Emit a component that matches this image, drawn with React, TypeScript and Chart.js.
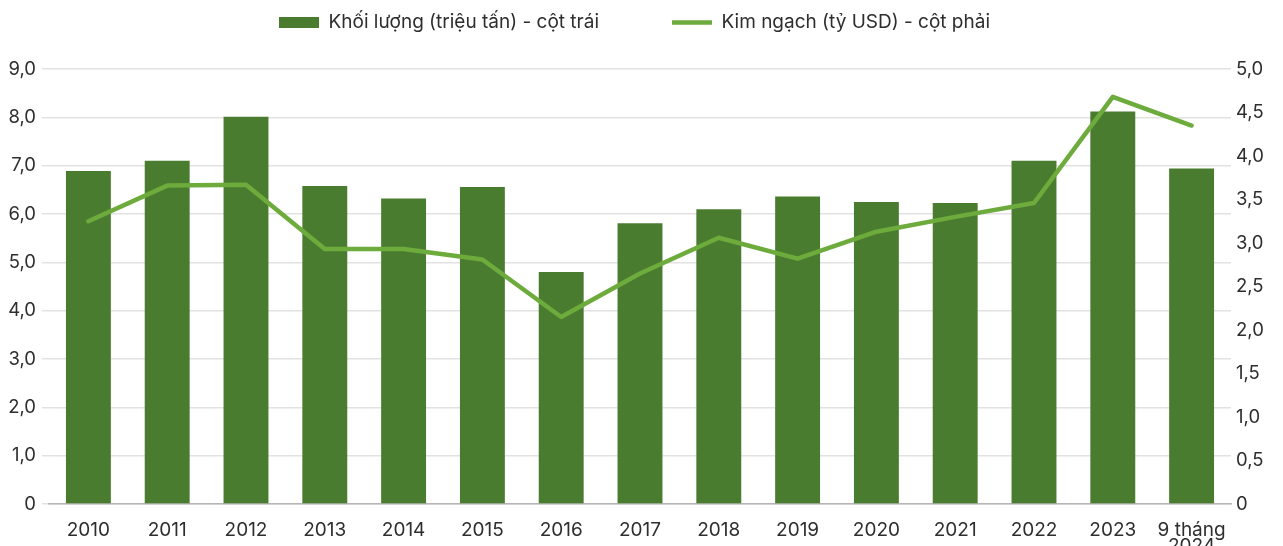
import React, { useEffect, useRef } from "react";
import { Chart, registerables } from "chart.js";

Chart.register(...registerables);

const categories: (string | string[])[] = [
  "2010", "2011", "2012", "2013", "2014", "2015", "2016", "2017",
  "2018", "2019", "2020", "2021", "2022", "2023", ["9 tháng", "2024"],
];
const volumeLabel = "Khối lượng (triệu tấn) - cột trái";
const valueLabel = "Kim ngạch (tỷ USD) - cột phải";
const volumes = [6.89, 7.1, 8.01, 6.58, 6.32, 6.56, 4.8, 5.81, 6.1, 6.36, 6.25, 6.23, 7.1, 8.12, 6.94];
const values = [3.25, 3.66, 3.67, 2.93, 2.93, 2.81, 2.15, 2.65, 3.06, 2.82, 3.13, 3.3, 3.46, 4.68, 4.35];
const leftTicks = [0, 1, 2, 3, 4, 5, 6, 7, 8, 9];
const rightTicks = [0, 0.5, 1, 1.5, 2, 2.5, 3, 3.5, 4, 4.5, 5];

const BAR_COLOR = "#4a7c2f";
const LINE_COLOR = "#6cab3c";
const TEXT_COLOR = "#2e2e2e";
const GRID_COLOR = "#e2e2e2";
const FONT = "Inter";

const fmt = (v: number) => (v === 0 ? "0" : v.toFixed(1).replace(".", ","));

const LEGEND_PAD = 73;

const legendPlace = {
  id: "legendPlace",
  beforeInit(chart: any) {
    const lg = chart.legend;
    if (!lg) return;
    const orig = lg.fit;
    lg.fit = function () {
      orig.call(this);
      this.height = 69;
    };
  },
  afterLayout(chart: any) {
    const lg = chart.legend;
    if (!lg) return;
    lg.left = 279 - LEGEND_PAD;
    lg.top = 13 - LEGEND_PAD;
  },
};

export default function App() {
  const ref = useRef<HTMLCanvasElement | null>(null);
  useEffect(() => {
    if (!ref.current) return;
    const chart = new Chart(ref.current, {
      type: "bar",
      data: {
        labels: categories,
        datasets: [
          {
            type: "bar",
            label: volumeLabel,
            data: volumes,
            backgroundColor: BAR_COLOR,
            borderWidth: 0,
            yAxisID: "y",
            order: 1,
            categoryPercentage: 1,
            barPercentage: 0.57,
            pointStyle: "rect",
          } as any,
          {
            type: "line",
            label: valueLabel,
            data: values,
            borderColor: LINE_COLOR,
            backgroundColor: LINE_COLOR,
            borderWidth: 4.5,
            pointRadius: 0,
            pointHoverRadius: 0,
            tension: 0,
            yAxisID: "y1",
            order: 0,
            pointStyle: "line",
            borderCapStyle: "round",
            borderJoinStyle: "round",
          } as any,
        ],
      },
      options: {
        responsive: false,
        animation: false,
        layout: { padding: 0 },
        plugins: {
          tooltip: { enabled: false },
          legend: {
            display: true,
            position: "top",
            align: "start",
            labels: {
              usePointStyle: true,
              pointStyleWidth: 40,
              boxHeight: 11,
              padding: LEGEND_PAD,
              color: TEXT_COLOR,
              font: { family: FONT, size: 19 },
              sort: (a: any, b: any) => a.datasetIndex - b.datasetIndex,
            },
          },
        },
        scales: {
          x: {
            offset: true,
            grid: { display: false, drawTicks: false },
            border: { display: true, color: "#b5b5b5", width: 1.5 },
            ticks: {
              color: TEXT_COLOR,
              font: { family: FONT, size: 19, lineHeight: 0.86 },
              padding: 18,
              maxRotation: 0,
              autoSkip: false,
            },
            afterFit: (s: any) => {
              s.height = 42;
            },
          },
          y: {
            position: "left",
            min: 0,
            max: 9,
            afterBuildTicks: (s: any) => {
              s.ticks = leftTicks.map((v) => ({ value: v }));
            },
            grid: { color: GRID_COLOR, lineWidth: 1.5, drawTicks: true, tickLength: 7 },
            border: { display: false },
            ticks: {
              color: TEXT_COLOR,
              font: { family: FONT, size: 18.5 },
              padding: 6,
              callback: (v: any) => fmt(Number(v)),
            },
            afterFit: (s: any) => {
              s.width = 49;
            },
          },
          y1: {
            position: "right",
            min: 0,
            max: 5,
            afterBuildTicks: (s: any) => {
              s.ticks = rightTicks.map((v) => ({ value: v }));
            },
            grid: { display: false, drawTicks: false },
            border: { display: false },
            ticks: {
              color: TEXT_COLOR,
              font: { family: FONT, size: 18.5 },
              padding: 5,
              callback: (v: any) => fmt(Number(v)),
            },
            afterFit: (s: any) => {
              s.width = 52;
            },
          },
        },
      } as any,
      plugins: [legendPlace],
    });
    return () => chart.destroy();
  }, []);
  return (
    <div style={{ position: "fixed", left: 0, top: 0, width: 1283, height: 546, background: "#fff" }}>
      <canvas ref={ref} width={1283} height={546} style={{ display: "block" }} />
    </div>
  );
}
